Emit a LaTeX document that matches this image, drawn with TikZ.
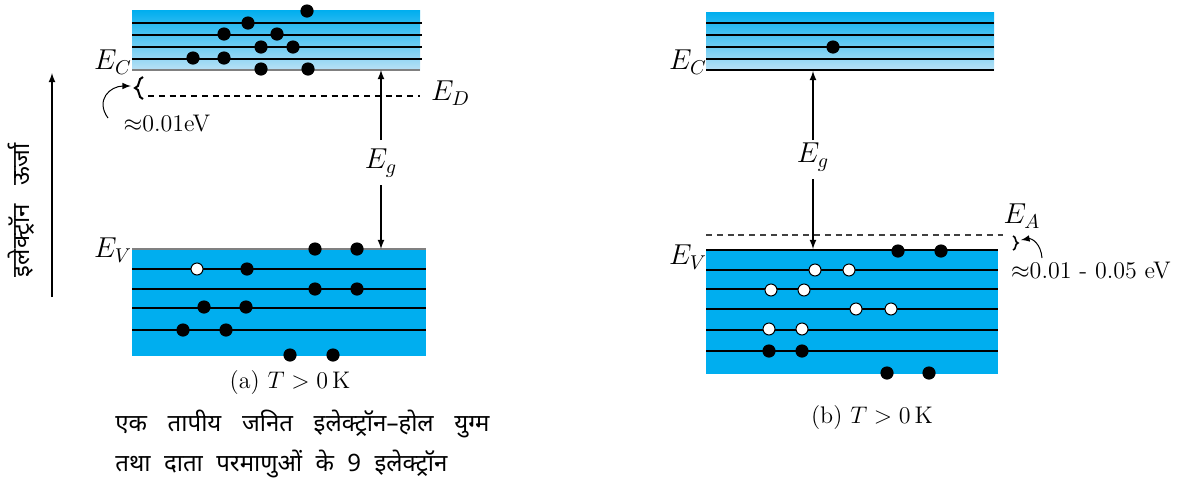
\documentclass[tikz,border=0pt]{standalone}
\usepackage{fontspec}
\usepackage{amsmath}
\newfontfamily\hindi[Script=Devanagari]{Noto Sans}
\usetikzlibrary{decorations.pathreplacing}
\definecolor{bandblue}{RGB}{0,174,239}
\definecolor{bandlight}{RGB}{185,225,245}

\begin{document}
\begin{tikzpicture}[x=0.5pt, y=-0.5pt, >=latex]

        % Styles for the carriers and the level lines
        \tikzset{
            elec/.style={circle, fill=black, inner sep=0pt, minimum size=6.6pt},
            hole/.style={circle, draw=black, fill=white, line width=0.5pt,
                inner sep=0pt, minimum size=6pt},
            lvl/.style={line width=0.7pt},
            lbl/.style={font=\Large},
            gap/.style={->, line width=0.6pt},
            fermi/.style={dashed, dash pattern=on 3pt off 2.4pt, line width=0.6pt}
        }

        \useasboundingbox (0, 0) rectangle (1199, 483);

        % Bands of panel (a)
        \begin{scope}
            \shade[top color=bandblue, bottom color=bandlight] (132, 10) rectangle (420, 70);
            \foreach \y in {23, 35, 47, 59}
                \draw[lvl] (132, \y) -- (422, \y);
            \draw[lvl, gray] (132, 70) -- (420, 70);

            \fill[bandblue] (132, 249) rectangle (426, 356);
            \draw[lvl, gray] (132, 249) -- (426, 249);
            \foreach \y in {269, 289, 308, 330}
                \draw[lvl] (132, \y) -- (426, \y);
        \end{scope}

        % Bands of panel (b)
        \begin{scope}
            \shade[top color=bandblue, bottom color=bandlight] (706, 12) rectangle (994, 70);
            \foreach \y in {23, 35, 47, 59, 70}
                \draw[lvl] (706, \y) -- (994, \y);

            \fill[bandblue] (706, 250) rectangle (998, 374);
            \foreach \y in {250, 270, 289, 309, 330, 351}
                \draw[lvl] (706, \y) -- (998, \y);
        \end{scope}

        % Electrons and holes of panel (a)
        \foreach \x/\y [count=\i] in {307/11, 248/23, 224/34, 277/34, 261/47,
            293/47, 193/58, 224/58, 261/69, 308/69, 315/249, 357/249, 247/269,
            315/289, 357/289, 204/307, 246/307, 183/330, 226/330, 290/355, 333/355}
            \node[elec] (ea\i) at (\x, \y) {};
        \node[hole] (ha1) at (197, 269) {};

        % Electrons and holes of panel (b)
        \foreach \x/\y [count=\i] in {833/47, 898/251, 941/251, 769/351,
            802/351, 887/373, 929/373}
            \node[elec] (eb\i) at (\x, \y) {};
        \foreach \x/\y [count=\i] in {815/270, 849/270, 771/290, 804/290,
            856/309, 891/309, 769/329, 802/329}
            \node[hole] (hb\i) at (\x, \y) {};

        % Labels of the band edges
        \node[lbl] (ECa) at (113, 62) {$E_C$};
        \node[lbl] (EVa) at (113, 250) {$E_V$};
        \node[lbl] (ECb) at (688, 62) {$E_C$};
        \node[lbl] (EVb) at (688, 257) {$E_V$};

        % Donor level and its gap
        \coordinate (EDl) at (148, 96);
        \coordinate (EDr) at (420, 96);
        \draw[fermi] (EDl) -- (EDr);
        \node[lbl, right] (EDa) at (424, 93) {$E_D$};
        \draw[decorate, decoration={brace, amplitude=4pt}, line width=1pt]
            (143, 99) -- (143, 77);
        \node[font=\large] (dEa) at (167, 124) {$\approx$0.01eV};
        \coordinate (dEas) at (108, 118);
        \coordinate (dEat) at (131, 86);
        \draw[->, line width=0.5pt] (dEas) .. controls (95, 100) and (110, 86) .. (dEat);

        % Acceptor level and its gap
        \coordinate (EAl) at (706, 235);
        \coordinate (EAr) at (1003, 235);
        \draw[fermi, darkgray] (EAl) -- (EAr);
        \node[lbl] (EAb) at (1022, 216) {$E_A$};
        \draw[decorate, decoration={brace, amplitude=2.5pt}, line width=0.8pt]
            (1013, 236) -- (1013, 250);
        \node[font=\large, right] (dEb) at (1004, 271) {$\approx$0.01 - 0.05 eV};
        \coordinate (dEbs) at (1042, 258);
        \coordinate (dEbt) at (1021, 240);
        \draw[->, line width=0.5pt] (dEbs) .. controls (1041, 244) and (1032, 238) .. (dEbt);

        % Energy gaps
        \node[lbl] (Ega) at (381, 163) {$E_g$};
        \coordinate (CBa) at (381, 70);
        \coordinate (VBa) at (381, 249);
        \draw[gap] (Ega) ++(0, -23) -- (CBa);
        \draw[gap] (Ega) ++(0, 22) -- (VBa);

        \node[lbl] (Egb) at (813, 157) {$E_g$};
        \coordinate (CBb) at (813, 71);
        \coordinate (VBb) at (813, 249);
        \draw[gap] (Egb) ++(0, -17) -- (CBb);
        \draw[gap] (Egb) ++(0, 22) -- (VBb);

        % Energy axis
        \coordinate (axb) at (52, 297);
        \coordinate (axt) at (52, 73);
        \draw[->, line width=0.6pt] (axb) -- (axt);
        \node[rotate=90, font=\large\hindi] (axl) at (21, 210)
            {\makebox[67pt][s]{इलेक्ट्रॉन ऊर्जा}};

        % Captions
        \node[font=\large] (capa) at (290, 383) {(a) $T > 0$\,K};
        \node[font=\large\hindi, right, inner sep=0pt] (hia1) at (115, 424)
            {\makebox[187pt][s]{एक तापीय जनित इलेक्ट्रॉन–होल युग्म}};
        \node[font=\large\hindi, right, inner sep=0pt] (hia2) at (115, 464)
            {\makebox[166pt][s]{तथा दाता परमाणुओं के 9 इलेक्ट्रॉन}};
        \node[font=\large] (capb) at (872, 418) {(b) $T > 0$\,K};

\end{tikzpicture}
\end{document}
